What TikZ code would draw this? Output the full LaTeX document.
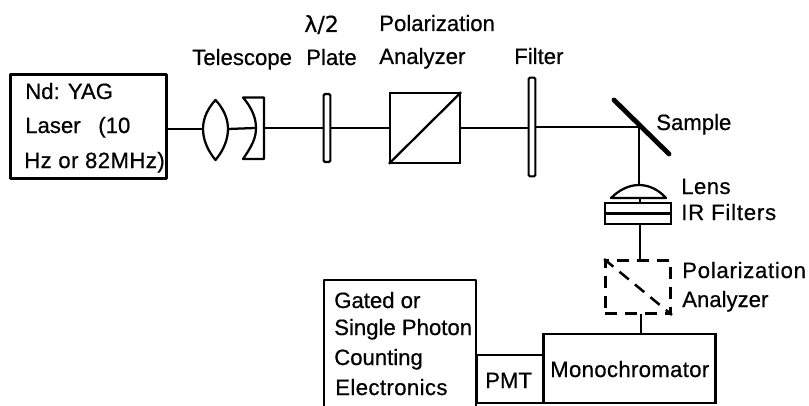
\documentclass[tikz,border=0pt]{standalone}
\usepackage{fontspec}
\setmainfont{Liberation Sans}
\newfontfamily\lblfont[FakeBold=0.6]{Liberation Sans}
\newfontfamily\grkfont[FakeBold=0.6]{DejaVu Sans}
\newcommand{\spc}[2]{{\addfontfeature{LetterSpace=#1}#2}}
\begin{document}
\begin{tikzpicture}[x=0.75pt,y=-0.75pt,
  ln/.style={line width=1.7pt,black,line join=round},
  thick box/.style={draw,line width=2pt,line join=round},
  lbl/.style={font=\lblfont\fontsize{16.6}{18}\selectfont,inner sep=0pt,anchor=base west,text=black},
  dash box/.style={line width=1.9pt,dash pattern=on 9pt off 6pt}]
\useasboundingbox (0,0) rectangle (809,406);
\fill[white] (0,0) rectangle (809,406);
% laser
\node[thick box,inner sep=0pt] (laser) at (88.5,126.5) {\rule{0pt}{78pt}\rule{117pt}{0pt}};
\node[lbl] (t1) at (25,99) {Nd: YAG};
\node[lbl] (t2) at (25,133) {Laser\hspace{0.8em}(10};
\node[lbl] (t3) at (24,168) {\spc{2}{Hz or 82MHz)}};
% components
\coordinate (lensL) at (203,129);
\coordinate (lensR) at (228,129);
\draw[ln,fill=white] (215.5,100) .. controls (208,108) and (203,118) .. (203,129) .. controls (203,140) and (208,151) .. (215.5,160) .. controls (223,151) and (228,140) .. (228,129) .. controls (228,118) and (223,108) .. (215.5,100) -- cycle;
\coordinate (menL) at (255,128);
\coordinate (menR) at (264,128);
\draw[ln,fill=white] (243,97.5) -- (264,97.5) -- (264,159) -- (243,159) .. controls (252,146) and (256,138) .. (256,128) .. controls (256,118) and (252,108) .. (243,97.5) -- cycle;
\node[draw,line width=1.6pt,inner sep=0pt,minimum width=5pt,minimum height=51pt,rounded corners=1pt] (plate) at (327,128) {};
\node[draw,line width=1.7pt,inner sep=0pt,minimum width=52.5pt,minimum height=52pt] (ana) at (425,128) {};
\draw[ln] (ana.north east) -- (ana.south west);
\node[draw,line width=1.6pt,inner sep=0pt,minimum width=5pt,minimum height=74pt,rounded corners=1pt] (filt) at (532,127) {};
\coordinate (s1) at (614,100);
\coordinate (s2) at (669,154);
\coordinate (hit) at (639,127);
\draw[ln] (laser.east |- lensL) -- (lensL);
\draw[ln] (lensR) -- (menL);
\draw[ln] (menR) -- (plate.west |- menR);
\draw[ln] (plate.east |- ana.west) -- (ana.west);
\draw[ln] (ana.east) -- (filt.west |- ana.east);
\draw[ln] (filt.east |- hit) -- (hit);
\draw[line width=3.6pt,line cap=round] (s1) -- (s2);
% lens + IR
\coordinate (planoTop) at (639,185);
\draw[ln,fill=white] (611,198) .. controls (620,189) and (630,185) .. (planoTop) .. controls (648,185) and (658,189) .. (666,198) -- cycle;
\draw[ln] (hit) -- (planoTop);
\node[draw,line width=1.7pt,inner sep=0pt,minimum width=50pt,minimum height=15.5pt] (ir) at (638,213.5) {};
\draw[ln] (ir.west) -- (ir.east);
\draw[ln] (640,198) -- (640,203);
\node[dash box,draw,inner sep=0pt,minimum width=49pt,minimum height=40pt] (ana2) at (638,287) {};
\draw[dash box] (ana2.north west) -- (ana2.south east);
\draw[ln] (640,224) -- (640,260);
% bottom
\node[draw,line width=1.7pt,inner sep=0pt,minimum width=129pt,minimum height=51.5pt] (mono) at (629.5,368.5) {};
\node[draw,line width=1.7pt,inner sep=0pt,minimum width=49pt,minimum height=36pt] (pmt) at (510,379) {};
\draw[ln] (641,314) -- (641,334);
\draw[ln] (324,406) -- (324,280) -- (476,280) -- (476,406);
% labels
\node[lbl] at (192,65) {Telescope};
\node[lbl,font=\grkfont\fontsize{16.6}{18}\selectfont] at (304,32) {λ/2};
\node[lbl] at (306,65) {Plate};
\node[lbl] at (379,31) {Polarization};
\node[lbl] at (379,64) {Analyzer};
\node[lbl] at (514,64) {Filter};
\node[lbl] at (656,130) {Sample};
\node[lbl] at (681,194) {\spc{2}{Lens}};
\node[lbl] at (681,220) {\spc{3.6}{IR Filters}};
\node[lbl] at (682,278) {\spc{3.3}{Polarization}};
\node[lbl] at (682,307) {Analyzer};
\node[lbl] at (334,308) {Gated or};
\node[lbl] at (334,335) {Single Photon};
\node[lbl] at (334,365) {Counting};
\node[lbl] at (335,395) {\spc{1.8}{Electronics}};
\node[lbl] at (485,388) {PMT};
\node[lbl] at (550,377) {\spc{1.5}{Monochromator}};
\end{tikzpicture}
\end{document}
